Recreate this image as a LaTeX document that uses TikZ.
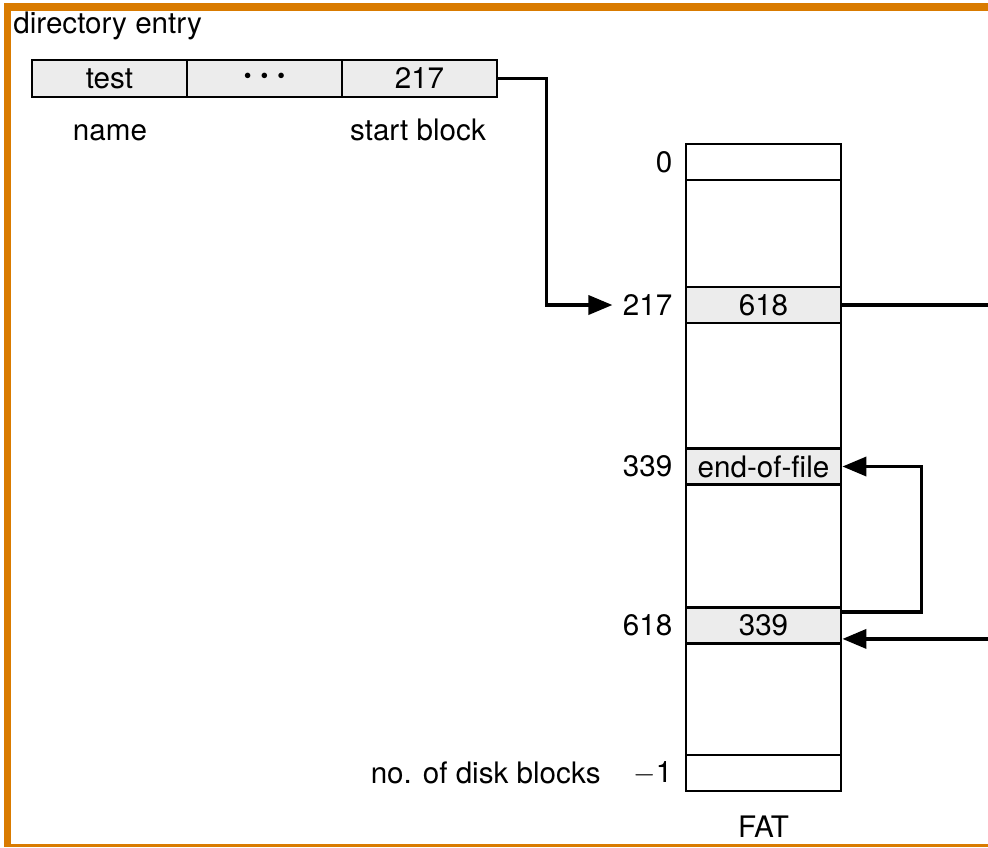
\documentclass[tikz,border=0pt]{standalone}
\usepackage{fontspec}
\setmainfont{TeX Gyre Heros}
\usetikzlibrary{arrows.meta,positioning}
\definecolor{framecol}{RGB}{217,123,0}
\newcommand\dirdots{{\fontsize{11}{12}\selectfont\textbullet\hspace{4.5pt}\textbullet\hspace{4.5pt}\textbullet}}

\begin{document}
\begin{tikzpicture}[x=0.5pt,y=-0.5pt,
  every node/.style={font=\fontsize{14.8}{17}\selectfont},
  cell/.style={draw,line width=1.4pt,fill=gray!15,minimum width=77.5pt,minimum height=18.5pt,inner sep=0pt},
  fat/.style={draw,line width=1.4pt,minimum width=77.5pt,minimum height=18pt,inner sep=0pt},
  lbl/.style={inner sep=0pt},
  link/.style={line width=1.8pt,-{Triangle[length=12pt,width=9.5pt]}}]
  \useasboundingbox (0,0) rectangle (988,847);
  % frame (cut at the right)
  \fill[framecol] (4,3) rectangle (988,11);
  \fill[framecol] (4,3) rectangle (11,847);
  \fill[framecol] (4,844) rectangle (988,847);
  % directory entry
  \node[lbl,anchor=base west] (dirlbl) at (13,33) {directory entry};
  \foreach \n/\x/\t in {1/109.5/test,2/264.5/{\dirdots},3/419.5/217} {
    \node[cell] (d\n) at (\x,78.5) {\t};
  }
  \node[lbl,anchor=base] (namelbl) at (110,140) {name};
  \node[lbl,anchor=base] (startlbl) at (418,140) {start block};
  % FAT column
  \draw[line width=0.8pt] (686,144) rectangle (841,791);
  \foreach \n/\y/\t/\c in {0/162//white,217/305/618/gray!15,339/466.5/end-of-file/gray!15,618/625.5/339/gray!15,last/773//white} {
    \node[fat,fill=\c] (f\n) at (763.5,\y) {\t};
  }
  \foreach \n/\t in {0/0,217/217,339/339,618/618,last/{$-$1}} {
    \node[lbl,left=6pt of f\n] (l\n) {\t};
  }
  \node[lbl,left=16pt of llast] (nblocks) {no. of disk blocks};
  \node[lbl,anchor=base] (fatlbl) at (763.5,837) {FAT};
  % chain
  \coordinate (outA) at (988,305);
  \path ([yshift=3pt]f618.south east) coordinate (inB);
  \coordinate (outB) at (inB -| outA);
  \draw[link,shorten >=5pt] (d3.east) -- ++(48,0) |- (l217.west);
  \draw[line width=1.8pt] (f217.east) -- (outA);
  \draw[link] ([yshift=-3pt]f618.north east) -- ++(79,0) |- (f339.east);
  \draw[link] (outB) -- (inB);
\end{tikzpicture}
\end{document}
